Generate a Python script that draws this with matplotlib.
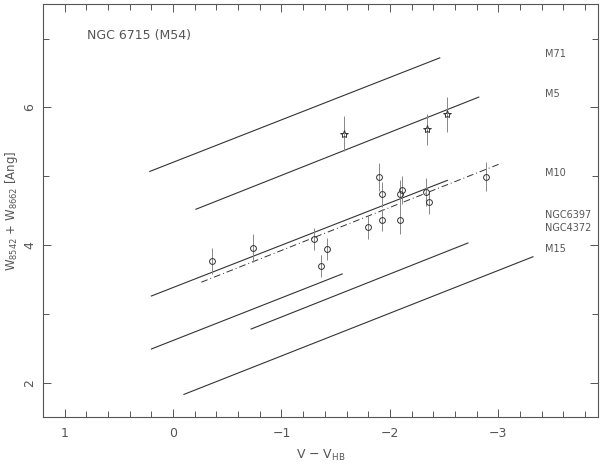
import matplotlib
matplotlib.use('Agg')
import matplotlib.pyplot as plt
from matplotlib.ticker import MultipleLocator

# calibration lines of the reference clusters: (x0, y0, x1, y1)
ref_names = ['M71', 'M5', 'M10', 'NGC6397', 'NGC4372', 'M15']
ref_x0 = [0.215, -0.21, 0.20, 0.20, -0.72, -0.10]
ref_y0 = [5.07, 4.52, 3.26, 2.49, 2.78, 1.83]
ref_x1 = [-2.46, -2.82, -2.53, -1.56, -2.72, -3.32]
ref_y1 = [6.72, 6.15, 4.94, 3.58, 4.03, 3.83]
label_y = [6.78, 6.19, 5.04, 4.43, 4.25, 3.94]

# M54 fit (dash-dot)
fit_x = [-0.26, -3.03]
fit_y = [3.46, 5.19]

# M54 stars
circ_x = [-0.36, -0.74, -1.30, -1.42, -1.36, -1.80, -1.90, -1.93, -1.93,
          -2.09, -2.11, -2.09, -2.33, -2.36, -2.89]
circ_y = [3.77, 3.96, 4.09, 3.94, 3.70, 4.26, 4.99, 4.74, 4.36,
          4.74, 4.80, 4.36, 4.77, 4.62, 4.99]
circ_err = [0.19, 0.20, 0.16, 0.16, 0.16, 0.17, 0.20, 0.18, 0.16,
            0.20, 0.20, 0.20, 0.20, 0.17, 0.21]

star_x = [-1.58, -2.34, -2.53]
star_y = [5.62, 5.68, 5.90]
star_err = [0.25, 0.23, 0.25]

gray = '#555555'
plt.rcParams['font.family'] = ['DejaVu Sans']

fig = plt.figure(figsize=(6, 4.65), dpi=100)
ax = fig.add_axes([0.0717, 0.103, 0.925, 0.888])

for i in range(len(ref_names)):
    ax.plot([ref_x0[i], ref_x1[i]], [ref_y0[i], ref_y1[i]], color='#333333', lw=0.8)
    ax.text(-3.43, label_y[i], ref_names[i], fontsize=7, color=gray, va='center', ha='left')

ax.plot(fit_x, fit_y, color='#333333', lw=0.7, linestyle=(0, (7, 3, 1, 3)))

ax.errorbar(circ_x, circ_y, yerr=circ_err, fmt='o', mfc='none', mec='#333333',
            ms=4.2, mew=0.7, ecolor='#888888', elinewidth=0.7, capsize=0)
ax.errorbar(star_x, star_y, yerr=star_err, fmt='*', mfc='none', mec='#333333',
            ms=6, mew=0.7, ecolor='#888888', elinewidth=0.7, capsize=0)

ax.text(0.79, 7.04, 'NGC 6715 (M54)', fontsize=9, color=gray, va='center', ha='left')

ax.set_xlim(1.2, -3.92)
ax.set_ylim(1.5, 7.5)
ax.xaxis.set_major_locator(MultipleLocator(1))
ax.xaxis.set_minor_locator(MultipleLocator(0.2))
ax.yaxis.set_major_locator(MultipleLocator(2))
ax.yaxis.set_minor_locator(MultipleLocator(1))
ax.set_xticks([1, 0, -1, -2, -3])
ax.set_xticklabels(['1', '0', '\u22121', '\u22122', '\u22123'])
ax.tick_params(which='both', direction='in', top=True, right=True, colors=gray,
               labelsize=9, labelcolor=gray)
ax.tick_params(which='major', length=6, width=0.7)
ax.tick_params(which='minor', length=4, width=0.7)
ax.tick_params(axis='x', which='major', pad=7)
ax.tick_params(axis='y', which='major', pad=5)
for lab in ax.get_yticklabels():
    lab.set_rotation(90)
    lab.set_va('center')
for s in ax.spines.values():
    s.set_color(gray)
    s.set_linewidth(0.8)

ax.set_xlabel('V \u2212 V$_{\\rm HB}$', fontsize=9, color=gray)
ax.set_ylabel('W$_{8542}$ + W$_{8662}$ [Ang]', fontsize=8.5, color=gray)
ax.xaxis.set_label_coords(0.5, -0.075)
ax.yaxis.set_label_coords(-0.042, 0.5)

fig.savefig('out.png', dpi=100)
